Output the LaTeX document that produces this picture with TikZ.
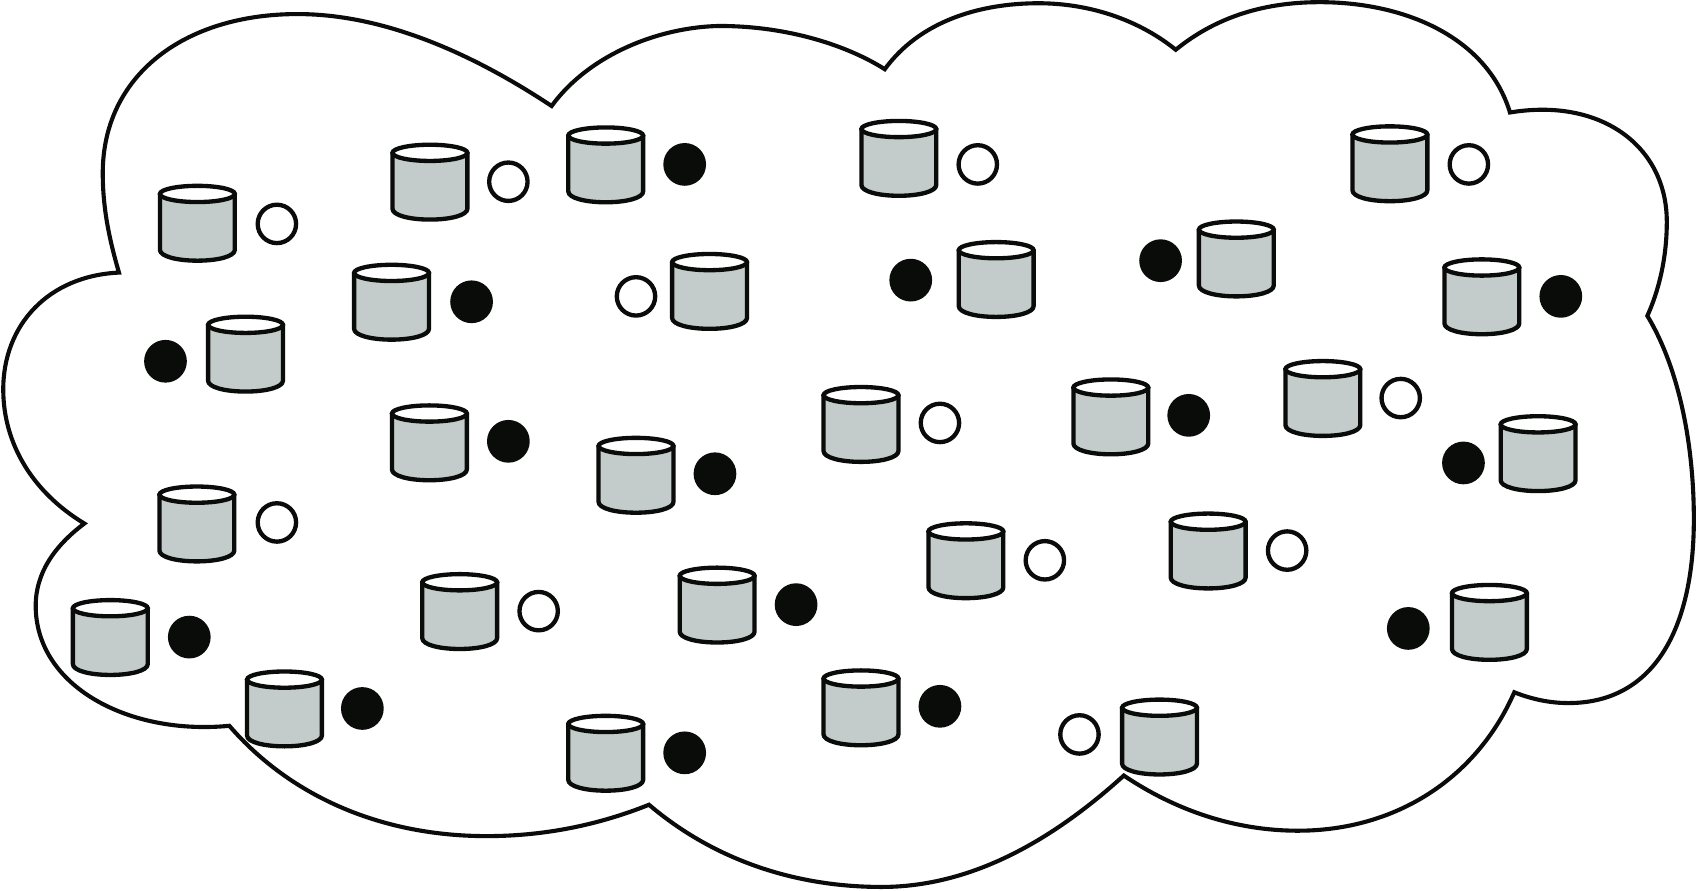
\documentclass[tikz,border=0pt]{standalone}
\definecolor{inkk}{HTML}{0A0C0A}
\definecolor{drum}{HTML}{C3CCCA}
\tikzset{
  outline/.style={draw=inkk,line width=3.8pt,line join=miter,miter limit=10,fill=white},
  cylbody/.style={draw=inkk,line width=4pt,fill=drum,line join=round},
  cyltop/.style={draw=inkk,line width=4pt,fill=white},
  opendot/.style={circle,draw=inkk,line width=4pt,fill=white,minimum size=35.5pt,inner sep=0pt},
  soliddot/.style={circle,draw=inkk,line width=4pt,fill=inkk,minimum size=35.5pt,inner sep=0pt},
  drumcyl/.pic={
    \path[cylbody] (-34.6,-27.7) -- (-34.6,24) .. controls (-34.6,30) and (-19,34) .. (0,34)
       .. controls (19,34) and (34.6,30) .. (34.6,24) -- (34.6,-27.7) -- cycle;
    \path[cyltop] (0,-27.7) ellipse [x radius=34.6pt,y radius=7.5pt];
  }
}
\begin{document}
\begin{tikzpicture}[x=1pt,y=-1pt]
\useasboundingbox (0,0) rectangle (1568,822.9);
\path[outline] (510,98)
  .. controls (545,50) and (610,25) .. (665,24)
  .. controls (730,24) and (785,43) .. (818,64)
  .. controls (850,20) and (905,3) .. (960,3)
  .. controls (1010,3) and (1055,20) .. (1087,46)
  .. controls (1125,15) and (1170,2) .. (1220,2)
  .. controls (1300,2) and (1375,35) .. (1396,104)
  .. controls (1480,90) and (1541,135) .. (1541,205)
  .. controls (1541,240) and (1533,270) .. (1523,292)
  .. controls (1552,340) and (1566,410) .. (1566,480)
  .. controls (1566,580) and (1530,650) .. (1450,650)
  .. controls (1432,650) and (1415,646) .. (1400,640)
  .. controls (1365,720) and (1290,768) .. (1200,768)
  .. controls (1140,768) and (1085,748) .. (1039,717)
  .. controls (975,775) and (900,820) .. (815,820)
  .. controls (735,820) and (660,795) .. (600,744)
  .. controls (555,762) and (505,773) .. (450,773)
  .. controls (355,773) and (270,738) .. (212,671)
  .. controls (120,680) and (33,635) .. (33,560)
  .. controls (33,530) and (50,505) .. (78,484)
  .. controls (30,455) and (3,410) .. (3,360)
  .. controls (3,300) and (45,255) .. (110,252)
  .. controls (100,218) and (95,190) .. (95,160)
  .. controls (95,70) and (170,13) .. (275,13)
  .. controls (350,13) and (430,45) .. (510,98) -- cycle;
\foreach \n/\cx/\cy/\kind/\dx/\dy in {
 a/182.5/207/opendot/256/207, b/397.5/169/opendot/470/168, c/560/153/soliddot/633/152,
 d/831/147/opendot/904/152, e/1285/152/opendot/1358/152, f/1143/240/soliddot/1073/241,
 g/921/259/soliddot/842/259, h/656/270/opendot/588/274, i/362/280/soliddot/436/279,
 j/227/328/soliddot/153/334, k/1370/275/soliddot/1443/274, l/1223/369/opendot/1295/368,
 m/1027/386/soliddot/1099/384, n/796/393/opendot/869/391, o/397/410/soliddot/470/408,
 p/588/440/soliddot/661/438, q/1422/420/soliddot/1353/428, r/182/485/opendot/256/483,
 s/893/519/opendot/966/518, t/1117/510/opendot/1190/509, u/425/566/opendot/498/565,
 v/663/560/soliddot/736/559, w/102/590/soliddot/175/589, x/1377/576/soliddot/1302/581,
 y/263/656/soliddot/335/655, z/796/655/soliddot/869/653, aa/560/697/soliddot/633/696,
 ab/1072/682/opendot/998/679} {
  \pic at (\cx,\cy) {drumcyl};
  \node[\kind] (dot\n) at (\dx,\dy) {};
}
\end{tikzpicture}
\end{document}
